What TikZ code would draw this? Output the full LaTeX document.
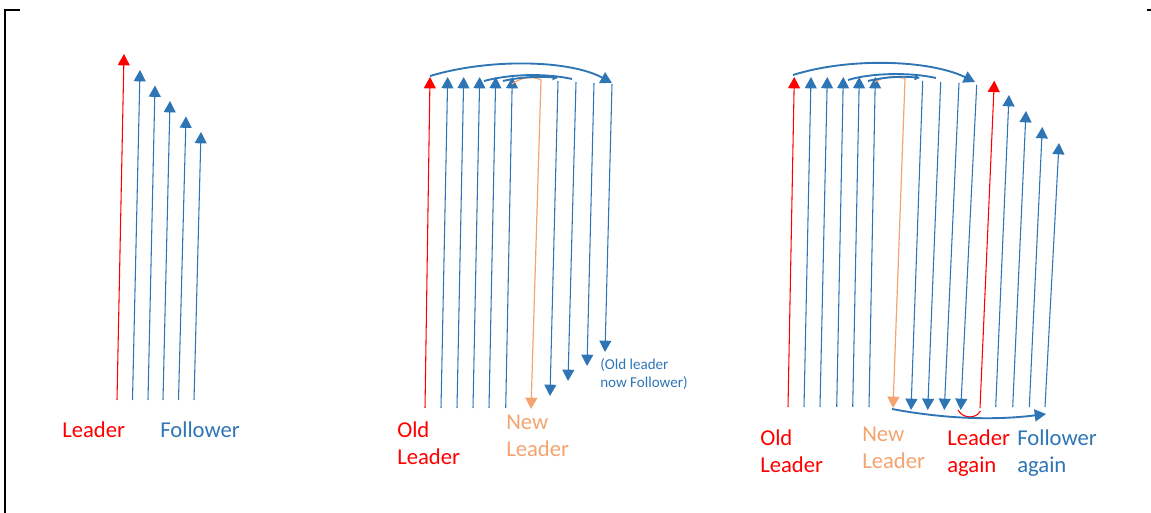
\documentclass[tikz,border=0pt]{standalone}
\usepackage{fontspec}
\setmainfont{Carlito}
\usetikzlibrary{arrows.meta}
\definecolor{lblue}{HTML}{2E75B6}
\definecolor{lred}{HTML}{FF0000}
\definecolor{lorange}{HTML}{F4A470}
\tikzset{
  arrtip/.style={-{Triangle[width=9pt,length=8.5pt]}},
  smalltip/.style={-{Triangle[width=4pt,length=4pt]}},
  redarrow/.style={draw=lred,line width=0.8pt,arrtip,color=lred},
  bluearrow/.style={draw=lblue,line width=0.8pt,arrtip,color=lblue},
  orangearrow/.style={draw=lorange,line width=0.9pt,arrtip,color=lorange},
  bluearc/.style={draw=lblue,line width=1.4pt,color=lblue},
  lbl/.style={inner sep=0pt,anchor=west,align=left,font=\fontsize{17pt}{20.5pt}\selectfont},
  smalllbl/.style={inner sep=0pt,anchor=west,align=left,font=\fontsize{11.3pt}{13.5pt}\selectfont,text=lblue},
  frame/.style={draw=black,line width=1.6pt}
}
\begin{document}
\begin{tikzpicture}[x=0.75pt,y=-0.75pt]
\useasboundingbox (0,0) rectangle (1151,513);
% frame fragments
\coordinate (fA) at (5,513);
\coordinate (fB) at (5,10);
\coordinate (fC) at (20,10);
\coordinate (fD) at (1147,10);
\coordinate (fE) at (1151,10);
\draw[frame] (fA) -- (fB) -- (fC);
\draw[frame] (fD) -- (fE);

% ---------- left panel ----------
\coordinate (Lrb) at (117,400); \coordinate (Lrt) at (124,54);
\draw[redarrow] (Lrb) -- (Lrt);
\foreach \n/\bx/\tx/\ty in {1/132.5/140/70, 2/148/155/85.5, 3/163/170/101, 4/178.5/186/116.5, 5/194/201/132}{
  \coordinate (Lb\n) at (\bx,400); \coordinate (Lt\n) at (\tx,\ty);
  \draw[bluearrow] (Lb\n) -- (Lt\n);
}
\node[lbl,text=lred] (lLeader) at (62,430) {Leader};
\node[lbl,text=lblue] (lFollower) at (160,430) {Follower};

% ---------- middle panel ----------
\coordinate (Mrb) at (425,408); \coordinate (Mrt) at (430,77);
\draw[redarrow] (Mrb) -- (Mrt);
\foreach \n/\bx/\tx in {1/441/447.7, 2/457/463.7, 3/473/479.7, 4/489/495.7, 5/505.7/512.3}{
  \coordinate (Mb\n) at (\bx,408); \coordinate (Mt\n) at (\tx,77);
  \draw[bluearrow] (Mb\n) -- (Mt\n);
}
\coordinate (Mos) at (512,84); \coordinate (Moc) at (541,80); \coordinate (Moe) at (531,409);
\draw[orangearrow] (Mos) .. controls (521,77) and (534,76) .. (Moc) -- (Moe);
\foreach \n/\tx/\ty/\bx/\by in {1/558/81/550/396, 2/576/82/568/381, 3/594/83/587/366, 4/612/84/605/352}{
  \coordinate (Md\n) at (\tx,\ty); \coordinate (Me\n) at (\bx,\by);
  \draw[bluearrow] (Md\n) -- (Me\n);
}
\coordinate (Mas) at (430,76); \coordinate (Mae) at (612,83);
\draw[bluearc,arrtip] (Mas) .. controls (490,58) and (570,60) .. (Mae);
\coordinate (Mbs) at (484,81); \coordinate (Mbe) at (572,79);
\draw[bluearc] (Mbs) .. controls (510,74) and (545,73) .. (Mbe);
\coordinate (Mcs) at (503,81); \coordinate (Mce) at (558,78);
\draw[bluearc,smalltip] (Mcs) .. controls (520,77) and (540,76) .. (Mce);
\node[lbl,text=lred] (mOld) at (397,443.5) {Old\\Leader};
\node[lbl,text=lorange] (mNew) at (506,435.5) {New\\Leader};
\node[smalllbl] (mNote) at (600,374) {(Old leader\\now Follower)};

% ---------- right panel ----------
\coordinate (Rrb) at (788,407); \coordinate (Rrt) at (794.3,77);
\draw[redarrow] (Rrb) -- (Rrt);
\foreach \n/\bx/\tx in {1/804/811, 2/820/827.3, 3/836.7/843.3, 4/852.7/859.3, 5/869/875.3}{
  \coordinate (Rb\n) at (\bx,407); \coordinate (Rt\n) at (\tx,77);
  \draw[bluearrow] (Rb\n) -- (Rt\n);
}
\coordinate (Ros) at (875,82); \coordinate (Roc) at (905,79); \coordinate (Roe) at (893,408);
\draw[orangearrow] (Ros) .. controls (884,76) and (897,75) .. (Roc) -- (Roe);
\foreach \n/\tx/\ty/\bx in {1/922.7/81/911, 2/940.7/82/927.7, 3/959/83/944.3, 4/976.7/85/960.7}{
  \coordinate (Rd\n) at (\tx,\ty); \coordinate (Re\n) at (\bx,410);
  \draw[bluearrow] (Rd\n) -- (Re\n);
}
\coordinate (Ras) at (793,75); \coordinate (Rae) at (975,82);
\draw[bluearc,arrtip] (Ras) .. controls (850,57) and (930,60) .. (Rae);
\coordinate (Rbs) at (848,80); \coordinate (Rbe) at (936,78);
\draw[bluearc] (Rbs) .. controls (870,73) and (910,72) .. (Rbe);
\coordinate (Rcs) at (868,81); \coordinate (Rce) at (920,78);
\draw[bluearc,smalltip] (Rcs) .. controls (884,77) and (903,76) .. (Rce);
% leader again
\coordinate (Rlb) at (980,408); \coordinate (Rlt) at (994.3,80.7);
\draw[redarrow] (Rlb) -- (Rlt);
\coordinate (Rus) at (958,410); \coordinate (Rue) at (980.5,411);
\draw[draw=lred,line width=0.8pt] (Rus) .. controls (963,419) and (976,419) .. (Rue);
% followers again
\foreach \n/\bx/\tx/\ty in {1/995.7/1009/95, 2/1012.7/1026/111, 3/1029.3/1042.3/127, 4/1045/1059/143}{
  \coordinate (Fb\n) at (\bx,407); \coordinate (Ft\n) at (\tx,\ty);
  \draw[bluearrow] (Fb\n) -- (Ft\n);
}
\coordinate (Rfs) at (892,409); \coordinate (Rfe) at (1046,414);
\draw[bluearc,arrtip] (Rfs) .. controls (940,418) and (990,421) .. (Rfe);
\node[lbl,text=lred] (rOld) at (760,451) {Old\\Leader};
\node[lbl,text=lorange] (rNew) at (862,448) {New\\Leader};
\node[lbl,text=lred] (rAgain) at (947,453) {Leader\\again};
\node[lbl,text=lblue] (rFollow) at (1017,453) {Follower\\again};
\end{tikzpicture}
\end{document}
